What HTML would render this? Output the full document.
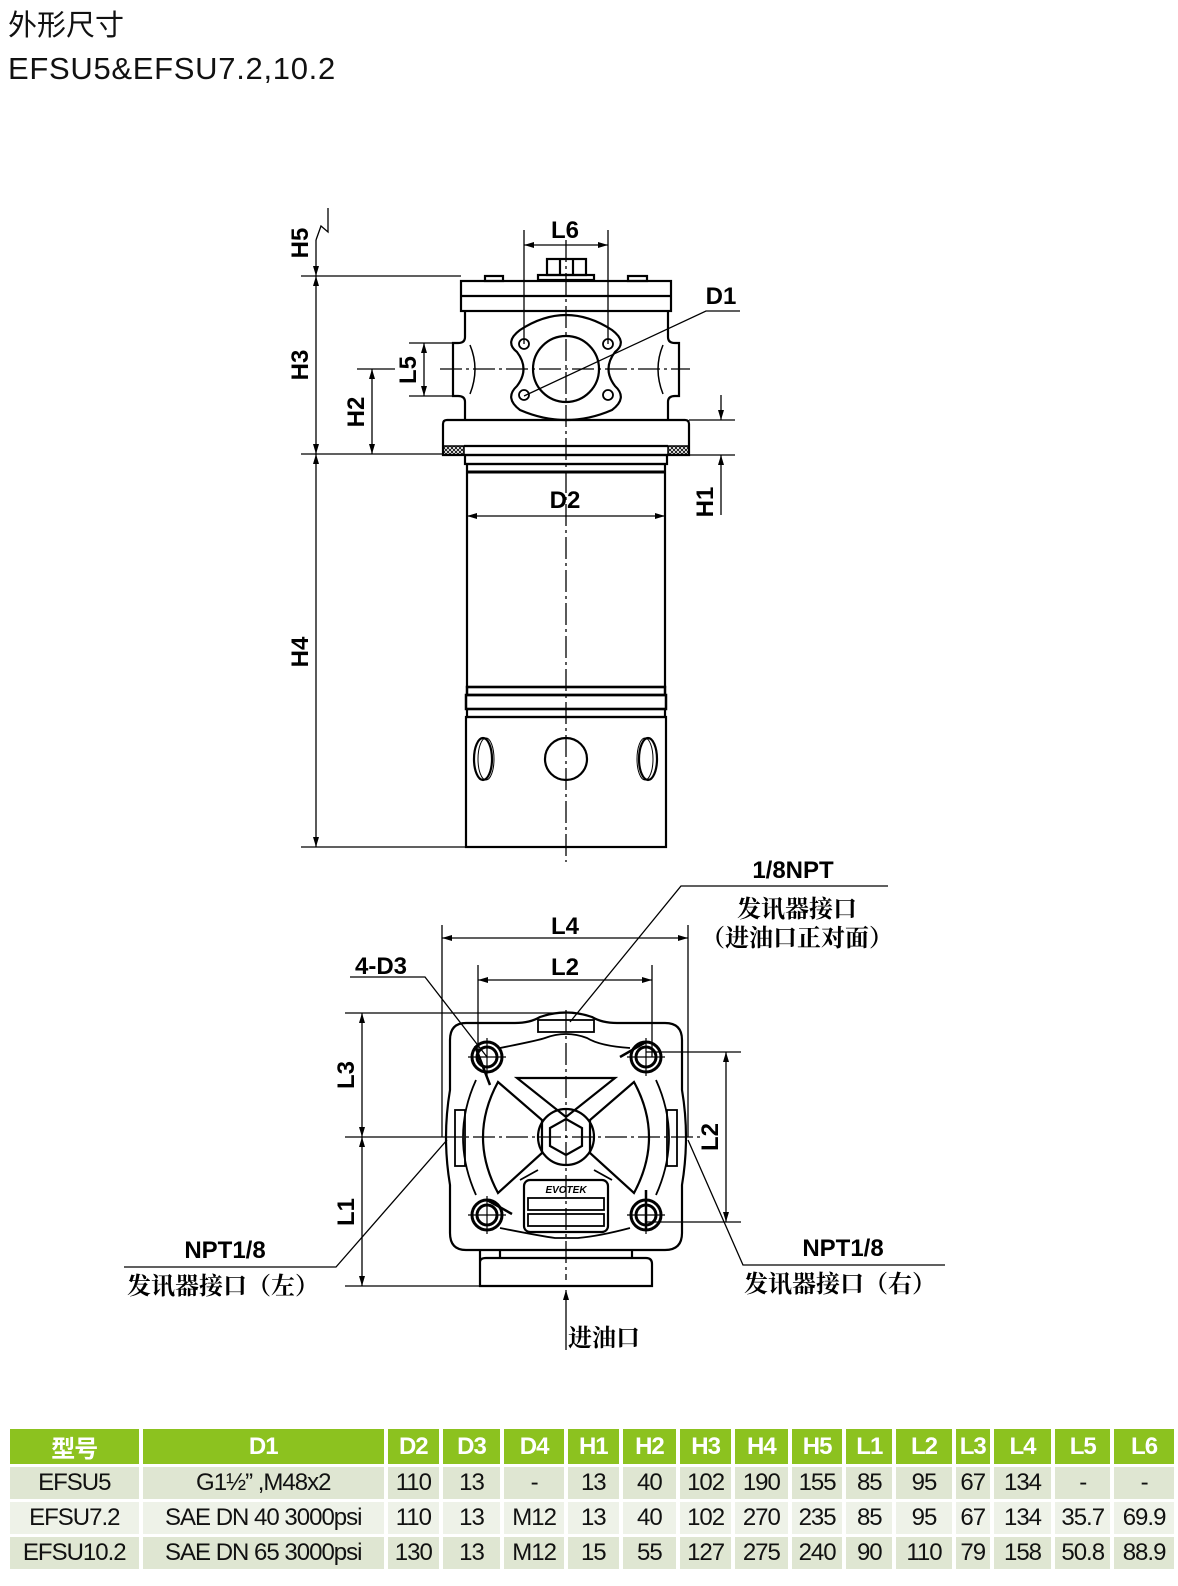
<!DOCTYPE html>
<html><head><meta charset="utf-8"><style>
body{margin:0;background:#fff;width:1178px;height:1586px;overflow:hidden;position:relative;font-family:"Liberation Sans","Noto Sans CJK SC",sans-serif}
.t{position:absolute;left:8px;color:#111}
table{position:absolute;left:6px;top:1426px;border-collapse:separate;border-spacing:4px 3px;font-family:"Liberation Sans","Noto Sans CJK SC",sans-serif}
td{text-align:center;font-size:24px;padding:0;height:32px;color:#111;letter-spacing:-1px}
tr.h td{background:#8cc21f;color:#fff;font-weight:bold;height:31px}
tr.a td{background:#dfe6d2}
tr.b td{background:#eef2e8}
</style></head><body>
<div class="t" style="top:2px;font-size:29px">外形尺寸</div>
<div class="t" style="top:51px;font-size:31px;letter-spacing:0.7px">EFSU5&amp;EFSU7.2,10.2</div>
<svg width="1178" height="1586" style="position:absolute;left:0;top:0" xmlns="http://www.w3.org/2000/svg">
<defs>
<marker id="ar" viewBox="0 0 10 6" refX="10" refY="3" markerWidth="10" markerHeight="6" orient="auto-start-reverse" markerUnits="userSpaceOnUse"><path d="M0,0L10,3L0,6z" fill="#000"/></marker>
<pattern id="hx" width="4" height="4" patternUnits="userSpaceOnUse"><path d="M0,4L4,0M0,0L4,4" stroke="#000" stroke-width="0.8"/></pattern>
</defs>
<g stroke="#000" fill="none" stroke-width="2.2">
<rect x="547" y="259" width="39" height="16"/><line x1="560" y1="259" x2="560" y2="275"/><line x1="573" y1="259" x2="573" y2="275"/>
<rect x="538" y="275" width="56" height="5"/>
<rect x="485" y="276" width="18" height="5"/><rect x="628" y="276" width="19" height="5"/>
<rect x="461" y="281" width="210" height="30"/><line x1="461" y1="296" x2="671" y2="296"/>
<path d="M465,311 V337 Q465,343 458,343 H453 V396 H458 Q465,396 465,402 V420 M668,311 V337 Q668,343 675,343 H679 V396 H675 Q668,396 668,402 V420"/>
<path d="M470,345 Q480,369 470,394 M663,345 Q653,369 663,394" stroke-width="1.5"/>
<path d="M520,330 Q566,300 612,330 Q628,342 615,352 Q602,369 615,386 Q628,398 612,410 Q566,430 520,410 Q504,398 517,386 Q530,369 517,352 Q504,342 520,330Z"/>
<circle cx="566" cy="369" r="33"/>
<g stroke-width="1.8"><circle cx="524" cy="344" r="5"/><circle cx="608" cy="344" r="5"/><circle cx="524" cy="395" r="5"/><circle cx="608" cy="395" r="5"/></g>
<path d="M443,424 Q443,420 447,420 H685 Q689,420 689,424 V455 H443Z"/>
<rect x="443" y="446" width="21" height="9" fill="url(#hx)" stroke-width="1.5"/><rect x="668" y="446" width="21" height="9" fill="url(#hx)" stroke-width="1.5"/>
<line x1="464" y1="446" x2="668" y2="446"/>
<rect x="465" y="455" width="202" height="9"/>
<rect x="467" y="464" width="198" height="223"/>
<line x1="467" y1="472" x2="665" y2="472" stroke-width="3"/>
<rect x="467" y="687" width="198" height="8" stroke-width="2.5"/>
<rect x="466" y="695" width="200" height="14" stroke-width="2.5"/>
<rect x="467" y="709" width="198" height="8"/>
<rect x="466" y="717" width="200" height="130"/>
<ellipse cx="483" cy="759" rx="9" ry="21"/><ellipse cx="486" cy="759" rx="8" ry="21" stroke-width="1"/>
<circle cx="566" cy="759" r="21"/>
<ellipse cx="648" cy="759" rx="9" ry="21"/><ellipse cx="645" cy="759" rx="8" ry="21" stroke-width="1"/>
</g>
<g stroke="#000" stroke-width="1.3" fill="none">
<line x1="566" y1="240" x2="566" y2="862" stroke-dasharray="22,4,3,4"/>
<line x1="440" y1="369" x2="690" y2="369" stroke-dasharray="22,4,3,4"/>
<path d="M328,208 V232 L321,226 L316,240"/>
<line x1="316" y1="240" x2="316" y2="276" marker-end="url(#ar)"/>
<line x1="316" y1="276" x2="316" y2="454" marker-start="url(#ar)" marker-end="url(#ar)"/>
<line x1="316" y1="454" x2="316" y2="847" marker-start="url(#ar)" marker-end="url(#ar)"/>
<line x1="301" y1="276" x2="461" y2="276"/>
<line x1="301" y1="454" x2="443" y2="454"/>
<line x1="301" y1="847" x2="466" y2="847"/>
<line x1="372" y1="369" x2="372" y2="454" marker-start="url(#ar)" marker-end="url(#ar)"/>
<line x1="357" y1="369" x2="395" y2="369"/>
<line x1="424" y1="343" x2="424" y2="396" marker-start="url(#ar)" marker-end="url(#ar)"/>
<line x1="409" y1="343" x2="455" y2="343"/><line x1="409" y1="396" x2="455" y2="396"/>
<line x1="524" y1="230" x2="524" y2="344"/><line x1="608" y1="230" x2="608" y2="344"/>
<line x1="524" y1="245" x2="608" y2="245" marker-start="url(#ar)" marker-end="url(#ar)"/>
<polyline points="740,311 706,311 524,396" />
<line x1="689" y1="420" x2="735" y2="420"/><line x1="689" y1="455" x2="735" y2="455"/>
<line x1="721" y1="395" x2="721" y2="420" marker-end="url(#ar)"/>
<line x1="721" y1="515" x2="721" y2="455" marker-end="url(#ar)"/>
<line x1="467" y1="516" x2="665" y2="516" marker-start="url(#ar)" marker-end="url(#ar)"/>
</g>
<g font-family="Liberation Sans,sans-serif" font-weight="bold" font-size="24" fill="#000" text-anchor="middle">
<text x="565" y="238">L6</text>
<text x="721" y="304">D1</text>
<text x="565" y="508">D2</text>
<text transform="translate(308,243) rotate(-90)">H5</text>
<text transform="translate(308,365) rotate(-90)">H3</text>
<text transform="translate(308,652) rotate(-90)">H4</text>
<text transform="translate(364,412) rotate(-90)">H2</text>
<text transform="translate(416,370) rotate(-90)">L5</text>
<text transform="translate(713,502) rotate(-90)">H1</text>
</g>
<g stroke="#000" fill="none" stroke-width="2.2">
<path d="M466,1023 H515 Q530,1023 540,1017 Q566,1008 592,1017 Q602,1023 617,1023 H665 Q682,1023 682,1040 V1090 Q690,1137 682,1185 V1233 Q682,1250 665,1250 H466 Q450,1250 450,1233 V1185 Q442,1137 450,1090 V1040 Q450,1023 466,1023Z"/>
<path d="M500,1048 Q540,1040 545,1038 Q566,1030 587,1038 Q600,1046 630,1048 M500,1228 Q540,1236 555,1238 H578 Q600,1236 630,1228" stroke-width="1.8"/>
<rect x="538" y="1020" width="56" height="12" stroke-width="1.8"/>
<rect x="455" y="1110" width="10" height="56" stroke-width="1.8"/><rect x="667" y="1110" width="10" height="56" stroke-width="1.8"/>
<path d="M476,1080 Q450,1137 476,1195 M656,1080 Q682,1137 656,1195" stroke-width="1.8"/>
<path d="M480,1250 V1262 Q480,1258 486,1258 H646 Q652,1258 652,1264 V1286 H480Z"/>
<line x1="500" y1="1250" x2="500" y2="1258"/><line x1="632" y1="1250" x2="632" y2="1258"/>
<path d="M517,1078 H615 L566,1117Z"/>
<path d="M498,1082 L542,1120 V1153 L498,1193 Q468,1137 498,1082Z"/>
<path d="M634,1082 L590,1120 V1153 L634,1193 Q664,1137 634,1082Z"/>
<path d="M538,1170 L520,1180 M594,1170 L612,1180" stroke-width="1.8"/>
<circle cx="566" cy="1137" r="28"/>
<path d="M566,1119 L582,1128 V1146 L566,1155 L550,1146 V1128Z"/>
<rect x="524" y="1180" width="84" height="52" rx="6"/>
<rect x="528" y="1198" width="76" height="12" stroke-width="1.8"/><rect x="528" y="1214" width="76" height="12" stroke-width="1.8"/>
<g stroke-width="3"><circle cx="487" cy="1057" r="15"/><circle cx="487" cy="1057" r="10"/><circle cx="646" cy="1057" r="15"/><circle cx="646" cy="1057" r="10"/><circle cx="487" cy="1215" r="15"/><circle cx="487" cy="1215" r="10"/><circle cx="646" cy="1215" r="15"/><circle cx="646" cy="1215" r="10"/></g>
<path d="M475,1046 L490,1085 M620,1057 L646,1042 M487,1200 L512,1214 M646,1230 L646,1190" stroke-width="2.5"/>
</g>
<text x="566" y="1193" font-family="Liberation Sans,sans-serif" font-weight="bold" font-style="italic" font-size="10" text-anchor="middle" fill="#000">EVOTEK</text>
<g stroke="#000" stroke-width="1.3" fill="none">
<line x1="566" y1="1010" x2="566" y2="1280" stroke-dasharray="22,4,3,4"/>
<line x1="440" y1="1137" x2="700" y2="1137" stroke-dasharray="22,4,3,4"/>
<g stroke-width="1.2"><line x1="468" y1="1057" x2="506" y2="1057"/><line x1="487" y1="1038" x2="487" y2="1076"/><line x1="627" y1="1057" x2="665" y2="1057"/><line x1="646" y1="1038" x2="646" y2="1076"/><line x1="468" y1="1215" x2="506" y2="1215"/><line x1="487" y1="1196" x2="487" y2="1234"/><line x1="627" y1="1215" x2="665" y2="1215"/><line x1="646" y1="1196" x2="646" y2="1234"/></g>
<line x1="442" y1="925" x2="442" y2="1137"/><line x1="688" y1="925" x2="688" y2="1137"/>
<line x1="442" y1="938" x2="688" y2="938" marker-start="url(#ar)" marker-end="url(#ar)"/>
<line x1="478" y1="965" x2="478" y2="1057"/><line x1="652" y1="965" x2="652" y2="1057"/>
<line x1="478" y1="980" x2="652" y2="980" marker-start="url(#ar)" marker-end="url(#ar)"/>
<line x1="345" y1="1013" x2="566" y2="1013"/>
<line x1="345" y1="1286" x2="480" y2="1286"/>
<line x1="345" y1="1137" x2="440" y2="1137"/>
<line x1="362" y1="1013" x2="362" y2="1137" marker-start="url(#ar)" marker-end="url(#ar)"/>
<line x1="362" y1="1137" x2="362" y2="1286" marker-start="url(#ar)" marker-end="url(#ar)"/>
<line x1="646" y1="1052" x2="741" y2="1052"/><line x1="646" y1="1222" x2="741" y2="1222"/>
<line x1="726" y1="1052" x2="726" y2="1222" marker-start="url(#ar)" marker-end="url(#ar)"/>
<polyline points="888,886 681,886 570,1022"/>
<polyline points="350,977 425,977 487,1057"/>
<polyline points="124,1267 336,1267 447,1140"/>
<polyline points="945,1265 743,1265 688,1140"/>
<line x1="566" y1="1350" x2="566" y2="1290" marker-end="url(#ar)"/>
</g>
<g font-family="Liberation Sans,sans-serif" font-weight="bold" font-size="24" fill="#000" text-anchor="middle">
<text x="565" y="934">L4</text>
<text x="565" y="975">L2</text>
<text x="381" y="974">4-D3</text>
<text x="793" y="878">1/8NPT</text>
<text x="225" y="1258">NPT1/8</text>
<text x="843" y="1256">NPT1/8</text>
<text transform="translate(354,1075) rotate(-90)">L3</text>
<text transform="translate(354,1212) rotate(-90)">L1</text>
<text transform="translate(718,1137) rotate(-90)">L2</text>
</g>
<g font-family="Noto Serif CJK SC,Noto Sans CJK SC,serif" font-weight="bold" font-size="24" fill="#000" text-anchor="middle">
<text x="797" y="917">发讯器接口</text>
<text x="797" y="946">（进油口正对面）</text>
<text x="223" y="1294">发讯器接口（左）</text>
<text x="840" y="1292">发讯器接口（右）</text>
<text x="604" y="1346">进油口</text>
</g>
</svg>
<table>
<tr class="h"><td style="width:129px">型号</td><td style="width:244px">D1</td><td style="width:51px">D2</td><td style="width:58px">D3</td><td style="width:60px">D4</td><td style="width:51px">H1</td><td style="width:54px">H2</td><td style="width:51px">H3</td><td style="width:53px">H4</td><td style="width:51px">H5</td><td style="width:46px">L1</td><td style="width:56px">L2</td><td style="width:34px">L3</td><td style="width:58px">L4</td><td style="width:55px">L5</td><td style="width:60px">L6</td></tr>
<tr class="a"><td>EFSU5</td><td>G1½” ,M48x2</td><td>110</td><td>13</td><td>-</td><td>13</td><td>40</td><td>102</td><td>190</td><td>155</td><td>85</td><td>95</td><td>67</td><td>134</td><td>-</td><td>-</td></tr>
<tr class="b"><td>EFSU7.2</td><td>SAE DN 40 3000psi</td><td>110</td><td>13</td><td>M12</td><td>13</td><td>40</td><td>102</td><td>270</td><td>235</td><td>85</td><td>95</td><td>67</td><td>134</td><td>35.7</td><td>69.9</td></tr>
<tr class="a"><td>EFSU10.2</td><td>SAE DN 65 3000psi</td><td>130</td><td>13</td><td>M12</td><td>15</td><td>55</td><td>127</td><td>275</td><td>240</td><td>90</td><td>110</td><td>79</td><td>158</td><td>50.8</td><td>88.9</td></tr>
</table>
</body></html>
